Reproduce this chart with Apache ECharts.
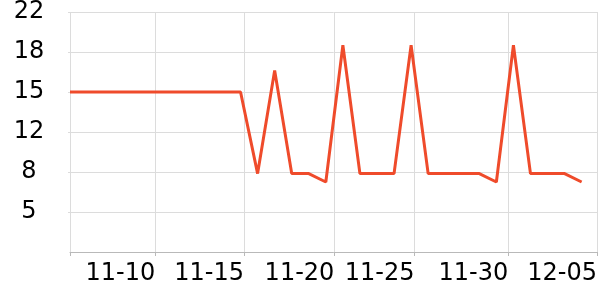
<!DOCTYPE html>
<html>
<head>
<meta charset="utf-8">
<script src="https://cdn.jsdelivr.net/npm/echarts@6/dist/echarts.min.js"></script>
<style>html,body{margin:0;padding:0;background:#fff;}#c{width:600px;height:300px;}</style>
</head>
<body>
<div id="c"></div>
<script>
// day index (0 = 11-05) and daily values
var dayIndex = [0,1,2,3,4,5,6,7,8,9,10,11,12,13,14,15,16,17,18,19,20,21,22,23,24,25,26,27,28,29,30];
var values = [15,15,15,15,15,15,15,15,15,15,15,8.2,16.8,8.2,8.2,7.5,18.9,8.2,8.2,8.2,18.9,8.2,8.2,8.2,8.2,7.5,18.9,8.2,8.2,8.2,7.5];
// x-axis ticks (in days) and their labels
var xTickDays = [0, 5, 10.2, 15.5, 20.2, 25.7, 30.9];
var xTickLabels = ['', '11-10', '11-15', '11-20', '11-25', '11-30', '12-05'];
// y-axis range
var yMin = 5 / 3, yMax = 65 / 3, yStep = 10 / 3;

var seriesData = dayIndex.map(function (d, i) { return [d, values[i]]; });

var chart = echarts.init(document.getElementById('c'), null, {renderer: 'canvas'});
chart.setOption({
  animation: false,
  grid: {left: 70, right: 0, top: 10, bottom: 48, containLabel: false},
  xAxis: {
    type: 'value',
    min: xTickDays[0],
    max: xTickDays[xTickDays.length - 1],
    axisLine: {show: true, lineStyle: {color: '#b9b9b9', width: 1}},
    axisTick: {show: true, length: 4, lineStyle: {color: '#b9b9b9'}, customValues: xTickDays},
    axisLabel: {
      customValues: xTickDays,
      align: 'right',
      margin: 10,
      fontSize: 24,
      fontFamily: 'DejaVu Sans',
      color: '#000',
      formatter: function (v) {
        var i = xTickDays.indexOf(v);
        return i >= 0 ? xTickLabels[i] : '';
      }
    },
    splitLine: {show: true, lineStyle: {color: '#dcdcdc', width: 1}}
  },
  yAxis: {
    type: 'value',
    min: yMin,
    max: yMax,
    interval: yStep,
    axisLine: {show: false},
    axisTick: {show: true, length: 2, lineStyle: {color: '#dcdcdc'}},
    axisLabel: {
      showMinLabel: false,
      align: 'center',
      margin: 41,
      fontSize: 24,
      fontFamily: 'DejaVu Sans',
      color: '#000',
      formatter: function (v) { return String(Math.round(v)); }
    },
    splitLine: {show: true, lineStyle: {color: '#dcdcdc', width: 1}}
  },
  series: [{
    type: 'line',
    data: seriesData,
    showSymbol: false,
    symbol: 'none',
    lineStyle: {color: '#ef4b2b', width: 3},
    itemStyle: {color: '#ef4b2b'}
  }]
});
</script>
</body>
</html>
